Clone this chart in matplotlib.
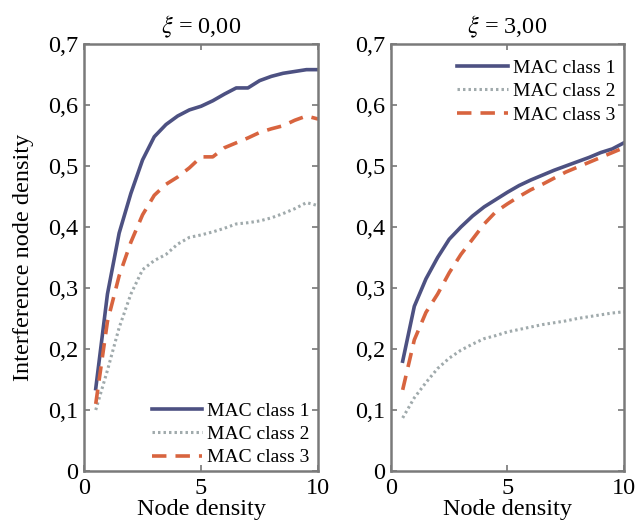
import matplotlib
matplotlib.use('Agg')
import matplotlib.pyplot as plt
from matplotlib.ticker import FuncFormatter

# node density values
node_density = [0.5, 1.0, 1.5, 2.0, 2.5, 3.0, 3.5, 4.0, 4.5, 5.0,
                5.5, 6.0, 6.5, 7.0, 7.5, 8.0, 8.5, 9.0, 9.5, 10.0]

# xi = 0,00
mac1_xi0 = [0.135, 0.29, 0.39, 0.455, 0.51, 0.548, 0.568, 0.582, 0.592, 0.598,
            0.607, 0.618, 0.628, 0.628, 0.64, 0.647, 0.652, 0.655, 0.658, 0.658]
mac2_xi0 = [0.10, 0.165, 0.235, 0.29, 0.33, 0.345, 0.355, 0.372, 0.383, 0.387,
            0.392, 0.398, 0.405, 0.407, 0.41, 0.415, 0.422, 0.43, 0.44, 0.435]
mac3_xi0 = [0.11, 0.245, 0.32, 0.375, 0.42, 0.452, 0.47, 0.482, 0.497, 0.515,
            0.515, 0.53, 0.538, 0.546, 0.555, 0.561, 0.566, 0.575, 0.582, 0.577]

# xi = 3,00
mac1_xi3 = [0.18, 0.27, 0.315, 0.35, 0.38, 0.40, 0.418, 0.433, 0.445, 0.457,
            0.468, 0.477, 0.485, 0.493, 0.50, 0.507, 0.514, 0.522, 0.528, 0.538]
mac2_xi3 = [0.087, 0.12, 0.145, 0.168, 0.185, 0.198, 0.208, 0.217, 0.222, 0.228,
            0.232, 0.236, 0.24, 0.243, 0.246, 0.25, 0.253, 0.256, 0.259, 0.261]
mac3_xi3 = [0.133, 0.215, 0.26, 0.29, 0.325, 0.355, 0.38, 0.405, 0.425, 0.438,
            0.45, 0.461, 0.47, 0.48, 0.49, 0.498, 0.506, 0.514, 0.522, 0.53]

titles = ['$\\xi$ = 0,00', '$\\xi$ = 3,00']
labels = ['MAC class 1', 'MAC class 2', 'MAC class 3']


def comma(v, pos):
    if abs(v) < 1e-9:
        return '0'
    return ('%.1f' % v).replace('.', ',')


def draw(output):
    plt.rcParams['font.family'] = ['Liberation Serif', 'DejaVu Serif']
    plt.rcParams['mathtext.fontset'] = 'stix'

    fig = plt.figure(figsize=(6.38, 5.26), dpi=100)
    ax1 = fig.add_axes([0.1317, 0.1046, 0.367, 0.8117])
    ax2 = fig.add_axes([0.6129, 0.1046, 0.365, 0.8117])

    panels = [(ax1, mac1_xi0, mac2_xi0, mac3_xi0, 'lower right', (1.0, -0.01)),
              (ax2, mac1_xi3, mac2_xi3, mac3_xi3, 'upper right', (1.0, 0.985))]

    for i, (ax, m1, m2, m3, loc, anchor) in enumerate(panels):
        ax.plot(node_density, m1, '-', color='#4d5182', lw=2.6, label=labels[0])
        ax.plot(node_density, m2, '-', color='#a0aaac', lw=2.2,
                dashes=(0.8, 1.0), label=labels[1])
        ax.plot(node_density, m3, '--', color='#d8643f', lw=2.6,
                dashes=(4, 2.5), label=labels[2])
        ax.set_xlim(0, 10)
        ax.set_ylim(0, 0.7)
        ax.set_xticks([0, 5, 10])
        ax.set_yticks([0, 0.1, 0.2, 0.3, 0.4, 0.5, 0.6, 0.7])
        ax.yaxis.set_major_formatter(FuncFormatter(comma))
        ax.tick_params(direction='in', top=True, right=True, length=4,
                       width=1.2, color='#777777', labelsize=17.5)
        ax.tick_params(axis='x', pad=5)
        ax.tick_params(axis='y', pad=4)
        for sp in ax.spines.values():
            sp.set_color('#7a7a7a')
            sp.set_linewidth(1.8)
        ax.set_title(titles[i], fontsize=17.5, pad=8)
        ax.set_xlabel('Node density', fontsize=17.5, labelpad=0)
        ax.legend(loc=loc, bbox_to_anchor=anchor, frameon=False, fontsize=14,
                  handlelength=2.6, handletextpad=0.25, labelspacing=0.3,
                  borderaxespad=0.15, borderpad=0.3)

    ax1.set_ylabel('Interference node density', fontsize=17.5, labelpad=10)

    fig.savefig(output, dpi=100)
    return


def main():
    draw('out.png')


if __name__ == "__main__":
    main()
